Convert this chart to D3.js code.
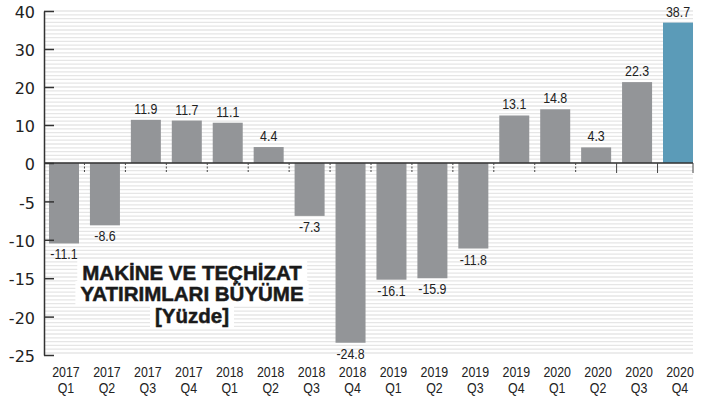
<!DOCTYPE html>
<html>
<head>
<meta charset="utf-8">
<script src="https://cdn.jsdelivr.net/npm/d3@7"></script>
<style>
  body { margin: 0; background: #fff; }
  svg { display: block; }
  .tick text { font-family: "DejaVu Sans", sans-serif; font-size: 16px; fill: #222; }
  .narrow { font-family: "Liberation Sans", Arial, sans-serif; font-size: 15.5px; fill: #222; }
  .title { font-family: "Liberation Sans", Arial, sans-serif; font-weight: bold; font-size: 20.5px;
           fill: #1a1a1a; stroke: #1a1a1a; stroke-width: 0.5px; }
</style>
</head>
<body>
<svg width="708" height="400"></svg>
<script>
// quarters and growth values (percent)
var years = ['2017','2017','2017','2017','2018','2018','2018','2018',
             '2019','2019','2019','2019','2020','2020','2020','2020'];
var quarters = ['Q1','Q2','Q3','Q4','Q1','Q2','Q3','Q4',
                'Q1','Q2','Q3','Q4','Q1','Q2','Q3','Q4'];
var values = [-11.1, -8.6, 11.9, 11.7, 11.1, 4.4, -7.3, -24.8,
              -16.1, -15.9, -11.8, 13.1, 14.8, 4.3, 22.3, 38.7];
var yTicks = [40, 30, 20, 10, 0, -5, -10, -15, -20, -25];
var titleLines = ['MAKİNE VE TEÇHİZAT', 'YATIRIMLARI BÜYÜME', '[Yüzde]'];

var cats = years.map(function(y, i) { return y + ' ' + quarters[i]; });

var svg = d3.select('svg');

// condensed look for the small labels: squeeze horizontally
var SQ = 0.8;

// **** scales ****
// the printed axis is not linear: negative half is stretched
var yAxisScale = d3.scaleLinear()
    .domain([-25, 0, 40]).range([355, 163, 11]);

// bars in the original follow their own (also split) scale
var yBar = d3.scaleLinear()
    .domain([-25, 0, 40]).range([344.2, 163, 17.9]);

var x = d3.scaleBand()
    .domain(cats).range([44, 698])
    .paddingInner(0.267).paddingOuter(0.122);

var bw = x.bandwidth();
var plotRight = x(cats[cats.length - 1]) + bw;

// **** striped background ****
svg.append('g').attr('class', 'stripes')
    .selectAll('line')
    .data(d3.range(11, 356, 3.8))
    .enter().append('line')
    .attr('x1', 44).attr('x2', plotRight)
    .attr('y1', function(d) { return d; })
    .attr('y2', function(d) { return d; })
    .attr('stroke', '#e6e6e6')
    .attr('stroke-width', 1.3);

// **** title with white boxes behind each line ****
var titleG = svg.append('g').attr('class', 'title-block');
var titleBase = [280, 301, 323];
titleLines.forEach(function(t, i) {
    var txt = titleG.append('text')
        .attr('class', 'title')
        .attr('x', 192).attr('y', titleBase[i])
        .attr('text-anchor', 'middle')
        .text(t);
    var bb = txt.node().getBBox();
    titleG.insert('rect', 'text')
        .attr('x', bb.x - 5).attr('y', bb.y - 1)
        .attr('width', bb.width + 10).attr('height', bb.height + 1)
        .attr('fill', '#fff');
});

// **** bars ****
svg.append('g').selectAll('rect')
    .data(values)
    .enter().append('rect')
    .attr('x', function(d, i) { return x(cats[i]); })
    .attr('width', bw)
    .attr('y', function(d) { return d >= 0 ? yBar(d) : yBar(0); })
    .attr('height', function(d) { return Math.abs(yBar(d) - yBar(0)); })
    .attr('fill', function(d, i) { return i === values.length - 1 ? '#5b9bb8' : '#939598'; });

// value labels
svg.append('g').attr('transform', 'scale(' + SQ + ',1)')
    .selectAll('text')
    .data(values)
    .enter().append('text')
    .attr('class', 'narrow')
    .attr('text-anchor', 'middle')
    .attr('x', function(d, i) { return (x(cats[i]) + bw / 2) / SQ; })
    .attr('y', function(d) { return d >= 0 ? yBar(d) - 6 : yBar(d) + 16; })
    .text(function(d) { return d.toFixed(1); });

// **** zero line with small ticks between bars ****
svg.append('line')
    .attr('x1', 44).attr('x2', plotRight)
    .attr('y1', yAxisScale(0)).attr('y2', yAxisScale(0))
    .attr('stroke', '#333').attr('stroke-width', 1.5);

var gaps = cats.slice(0, -1).map(function(c) {
    return x(c) + bw + (x.step() - bw) / 2;
});
gaps.push(plotRight);

svg.append('g').selectAll('line')
    .data(gaps)
    .enter().append('line')
    .attr('x1', function(d) { return d; })
    .attr('x2', function(d) { return d; })
    .attr('y1', yAxisScale(0)).attr('y2', yAxisScale(0) + 10)
    .attr('stroke', '#444')
    .attr('stroke-width', 1)
    .attr('stroke-dasharray', function(d, i) { return i >= 13 ? null : '2,1.5'; });

// **** y axis ****
svg.append('g').attr('class', 'y axis')
    .attr('transform', 'translate(44,0)')
    .call(d3.axisLeft(yAxisScale)
        .tickValues(yTicks)
        .tickFormat(function(d) { return String(d); })
        .tickSizeInner(-10)
        .tickSizeOuter(0)
        .tickPadding(9))
    .call(function(g) {
        g.select('.domain').attr('stroke', '#333').attr('stroke-width', 1.5);
        g.selectAll('.tick line').attr('stroke', '#333').attr('stroke-width', 1.5);
        g.selectAll('.tick text').attr('dy', '0.42em').attr('font-size', null).attr('font-family', null);
    });

// **** x labels ****
var xl = svg.append('g').attr('transform', 'scale(' + SQ + ',1)')
    .selectAll('text')
    .data(cats)
    .enter().append('text')
    .attr('class', 'narrow')
    .attr('text-anchor', 'middle');

xl.append('tspan')
    .attr('x', function(d) { return (x(d) + bw / 2 + 2) / SQ; })
    .attr('y', 377)
    .text(function(d, i) { return years[i]; });

xl.append('tspan')
    .attr('x', function(d) { return (x(d) + bw / 2 + 2) / SQ; })
    .attr('y', 393)
    .text(function(d, i) { return quarters[i]; });
</script>
</body>
</html>
